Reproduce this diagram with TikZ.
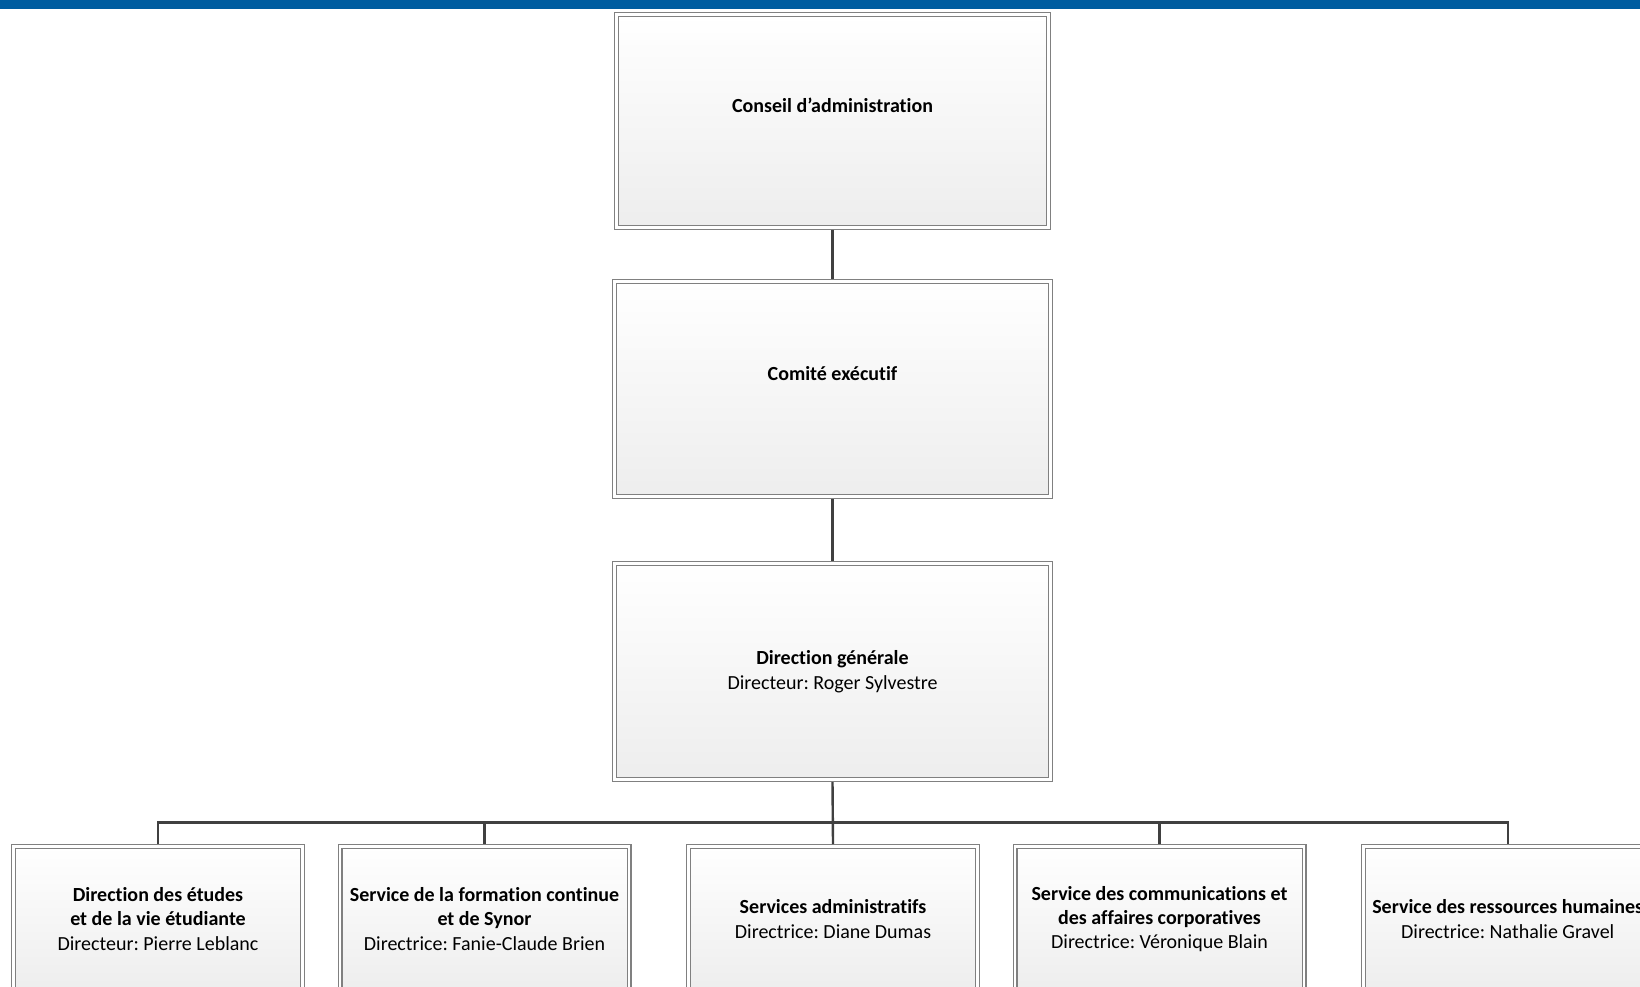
\documentclass[tikz,border=0pt]{standalone}
\usepackage{fontspec}
\setmainfont{Carlito}[Ligatures={NoCommon}]
\frenchspacing
\usepackage{tikz}
\definecolor{barblue}{RGB}{0,93,160}
\definecolor{linegray}{RGB}{64,64,64}

\begin{document}
\begin{tikzpicture}[x=1pt, y=-1pt,
  orgbox/.style={draw=black!50, line width=1.2pt, double=white, double distance=2.6pt,
    top color=white, bottom color=black!7, align=center, inner sep=0pt, outer sep=2.5pt,
    font=\fontsize{20}{24.4}\selectfont},
  conn/.style={draw=linegray, line width=2.4pt}]
  \useasboundingbox (0,0) rectangle (1640,986);

  % ── top band ──
  \fill[barblue] (0,0) rectangle (1640,9);

  % ── upper chain ──
  \node[orgbox, minimum width=432pt, minimum height=213pt] (ca) at (832.5,121)
    {\textbf{Conseil d’administration}\\ \strut};
  \node[orgbox, minimum width=436pt, minimum height=215pt] (ce) at (832.5,389)
    {\textbf{Comité exécutif}\\ \strut};
  \node[orgbox, minimum width=436pt, minimum height=216pt] (dg) at (832.5,671.5)
    {\textbf{Direction générale}\\ Directeur: Roger Sylvestre};

  % ── services ──
  \foreach \n/\x/\txt in {
      de/158/{\textbf{Direction des études}\\ \textbf{et de la vie étudiante}\\ Directeur: Pierre Leblanc},
      sf/484.5/{\textbf{Service de la formation continue}\\ \textbf{et de Synor}\\ Directrice: Fanie-Claude Brien},
      sa/833/{\textbf{Services administratifs}\\ Directrice: Diane Dumas},
      sc/1159.5/{\textbf{Service des communications et}\\ \textbf{des affaires corporatives}\\ Directrice: Véronique Blain},
      rh/1507.7/{\textbf{Service des ressources humaines}\\ Directrice: Nathalie Gravel}} {
    \node[orgbox, minimum width=289pt, minimum height=145pt] (\n) at (\x,919) {\txt};
  }

  % connectors
  \coordinate (bus) at (832.5,822.3);
  \draw[conn] (ca) -- (ce);
  \draw[conn] (ce) -- (dg);
  \draw[conn] (dg.south) -- (sa.north);
  \draw[conn] (de.north) |- (bus) -| (rh.north);
  \foreach \n in {sf,sc} {
    \draw[conn] (bus -| \n.north) -- (\n.north);
  }
\end{tikzpicture}
\end{document}
